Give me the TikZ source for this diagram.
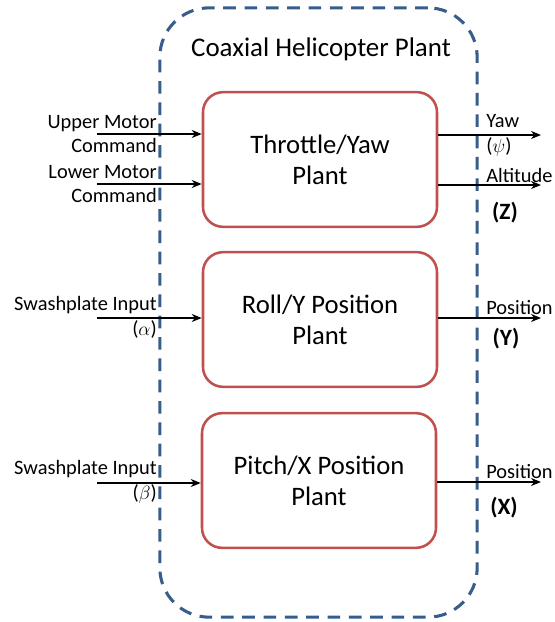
\documentclass[tikz,border=0pt]{standalone}
\usepackage{fontspec}
\setmainfont{Carlito}
\usetikzlibrary{positioning,arrows.meta}

\definecolor{plantred}{RGB}{192,80,77}
\definecolor{frameblue}{RGB}{56,93,138}

\begin{document}
\begin{tikzpicture}[
    x=0.75pt, y=-0.75pt,
    frame/.style={draw=frameblue, line width=2.3pt,
        dash pattern=on 9.5pt off 6.5pt, rounded corners=37pt,
        minimum width=238pt, minimum height=457pt},
    plant/.style={draw=plantred, line width=1.9pt, fill=white,
        rounded corners=15pt, minimum width=175.5pt, minimum height=101pt,
        align=center, font=\fontsize{20}{23.4}\selectfont},
    sig/.style={-{Stealth[length=7.5pt,width=6pt]}, line width=1.6pt},
    lbl/.style={inner sep=0pt, font=\fontsize{15.3}{18}\selectfont},
    outvar/.style={inner sep=0pt, font=\bfseries\fontsize{17.5}{20}\selectfont},
]
    \useasboundingbox (0,0) rectangle (555,622);
    % ~~~ the plant frame ~~~~~~~~~~~~~~~~~~~~~~~~~~
    \node[frame] (heli) at (318.5,312.5) {};
    \node[inner sep=0pt, font=\fontsize{20.2}{24}\selectfont]
        (title) at (321,49) {Coaxial Helicopter Plant};
    % ~~~ the three sub-plants ~~~~~~~~~~~~~~~~~~~~~
    \node[plant] (thr)   at (320,159.5) {Throttle/Yaw\\Plant};
    \node[plant] (roll)  at (320,319.5) {Roll/Y Position\\Plant};
    \node[plant] (pitch) at (319,480.5) {Pitch/X Position\\Plant};

    % ~~~ inputs ~~~~~~~~~~~~~~~~~~~~~~~~~~~~~~~~~~~
    \coordinate (upIn)    at (97,134);
    \coordinate (lowIn)   at (97,184);
    \coordinate (alphaIn) at (97,318);
    \coordinate (betaIn)  at (97,483);
    \draw[sig] (upIn)    -- (upIn -| thr.west);
    \draw[sig] (lowIn)   -- (lowIn -| thr.west);
    \draw[sig] (alphaIn) -- (alphaIn -| roll.west);
    \draw[sig] (betaIn)  -- (betaIn -| pitch.west);

    \node[lbl, align=right, anchor=east] (upLbl)  at (157,134) {Upper Motor\\Command};
    \node[lbl, align=right, anchor=east] (lowLbl) at (157,184) {Lower Motor\\Command};
    \node[lbl, align=right, anchor=east] (alphaLbl) at (157,317)
        {Swashplate Input\\[1pt]($\alpha$)};
    \node[lbl, align=right, anchor=east] (betaLbl) at (157,482)
        {Swashplate Input\\[1pt]($\beta$)};

    % ~~~ outputs ~~~~~~~~~~~~~~~~~~~~~~~~~~~~~~~~~~
    \coordinate (yawOut) at (541,135);
    \coordinate (altOut) at (541,185);
    \coordinate (yOut)   at (541,318);
    \coordinate (xOut)   at (541,482);
    \draw[sig] (yawOut -| thr.east)  -- (yawOut);
    \draw[sig] (altOut -| thr.east)  -- (altOut);
    \draw[sig] (yOut -| roll.east)   -- (yOut);
    \draw[sig] (xOut -| pitch.east)  -- (xOut);

    \node[lbl, align=left, anchor=west] (yawLbl) at (486,135) {Yaw\\[1pt]($\psi$)};
    \node[lbl, anchor=south west] (altLbl) at (486,183) {Altitude};
    \node[lbl, anchor=south west] (yLbl)   at (486,315) {Position};
    \node[lbl, anchor=south west] (xLbl)   at (486,479) {Position};
    \node[outvar] (zVar) at (505,213) {(Z)};
    \node[outvar] (yVar) at (506,339) {(Y)};
    \node[outvar] (xVar) at (504,508) {(X)};
\end{tikzpicture}
\end{document}
